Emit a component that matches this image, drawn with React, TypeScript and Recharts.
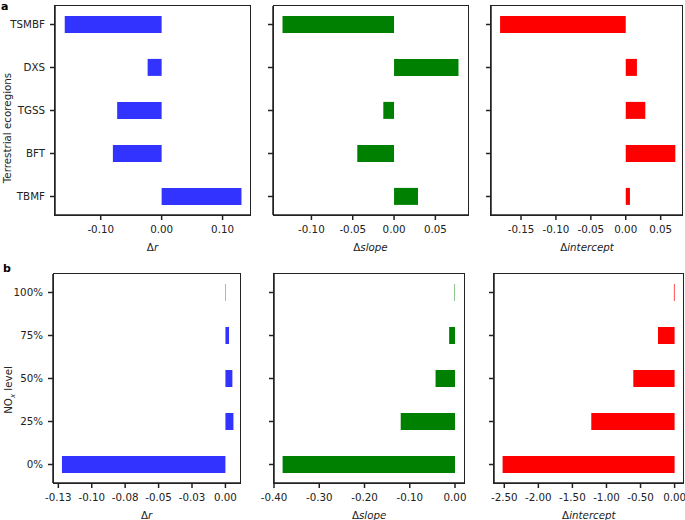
import { BarChart, Bar, XAxis, YAxis } from 'recharts'

const ecoregions = ['TSMBF', 'DXS', 'TGSS', 'BFT', 'TBMF']
const ecoR = [-0.159, -0.023, -0.073, -0.08, 0.131]
const ecoSlope = [-0.135, 0.078, -0.013, -0.0445, 0.029]
const ecoIntercept = [-0.18, 0.016, 0.028, 0.071, 0.006]

const noxLevels = ['100%', '75%', '50%', '25%', '0%']
const noxR = [0.0003, 0.0027, 0.0052, 0.006, -0.1223]
const noxSlope = [-0.001, -0.013, -0.043, -0.12, -0.381]
const noxIntercept = [-0.01, -0.244, -0.606, -1.223, -2.525]

const ecoRTicks = [-0.1, 0, 0.1]
const ecoSlopeTicks = [-0.1, -0.05, 0, 0.05]
const ecoInterceptTicks = [-0.15, -0.1, -0.05, 0, 0.05]
const noxRTicks = [-0.125, -0.1, -0.075, -0.05, -0.025, 0]
const noxRTickLabels = ['-0.13', '-0.10', '-0.08', '-0.05', '-0.03', '0.00']
const noxSlopeTicks = [-0.4, -0.3, -0.2, -0.1, 0]
const noxInterceptTicks = [-2.5, -2, -1.5, -1, -0.5, 0]

const BLUE = '#3333ff'
const GREEN = '#008000'
const RED = '#ff0000'
const AXIS = '#222'
const FONT = '"DejaVu Sans", sans-serif'
const FS = 10.3

const tickStyle = { fontSize: FS, fill: AXIS, fontFamily: FONT }

const XTitle = ({ viewBox, name }: any) => {
  const { x, y, width } = viewBox
  return (
    <text x={x + width / 2} y={y + 36} textAnchor="middle" fontSize={FS} fill={AXIS} fontFamily={FONT}>
      <tspan>Δ</tspan>
      <tspan fontStyle="italic">{name}</tspan>
    </text>
  )
}

interface PanelProps {
  names: string[]
  values: number[]
  color: string
  domain: [number, number]
  ticks: number[]
  tickLabels?: string[]
  title: string
  box: [number, number, number, number]
  showNames?: boolean
}

const Panel = ({ names, values, color, domain, ticks, tickLabels, title, box, showNames }: PanelProps) => {
  const data = names.map((name, i) => ({ name, value: values[i] }))
  const [left, right, top, bottom] = box
  const yw = 50
  const xh = 45
  const mt = 4
  const mr = 4
  const fmt = (v: number) => {
    if (tickLabels) return tickLabels[ticks.indexOf(v)] ?? v.toFixed(2)
    return v.toFixed(2)
  }
  return (
    <>
      <div style={{ position: 'absolute', left: left - yw, top: top - mt }}>
        <BarChart
          layout="vertical"
          width={yw + (right - left) + mr}
          height={mt + (bottom - top) + xh}
          data={data}
          margin={{ top: mt, right: mr, bottom: 0, left: 0 }}
          barCategoryGap="30%"
        >
          <XAxis
            type="number"
            dataKey="value"
            domain={domain}
            ticks={ticks}
            allowDataOverflow
            interval={0}
            height={xh}
            tickFormatter={fmt}
            tick={tickStyle}
            tickSize={5}
            tickMargin={6}
            stroke={AXIS}
            strokeWidth={1.5}
            label={<XTitle name={title} />}
          />
          <YAxis
            type="category"
            dataKey="name"
            width={yw}
            padding={{ top: -3, bottom: -3 }}
            tickFormatter={showNames ? undefined : () => ''}
            tick={tickStyle}
            tickSize={5}
            tickMargin={5}
            stroke={AXIS}
            strokeWidth={1.5}
          />
          <Bar dataKey="value" fill={color} isAnimationActive={false} />
        </BarChart>
      </div>
      {/* full frame round the plot area, like matplotlib's four spines */}
      <div
        style={{
          position: 'absolute',
          left: left - 0.75,
          top: top - 0.75,
          width: right - left + 1.5,
          height: bottom - top + 1.5,
          border: `1.5px solid ${AXIS}`,
          boxSizing: 'border-box',
          pointerEvents: 'none',
        }}
      />
    </>
  )
}

const YTitle = ({ cx, cy, children }: any) => (
  <div
    style={{
      position: 'absolute',
      left: cx,
      top: cy,
      transform: 'translate(-50%, -50%) rotate(-90deg)',
      whiteSpace: 'nowrap',
      fontSize: FS,
      lineHeight: '12px',
      color: AXIS,
      fontFamily: FONT,
    }}
  >
    {children}
  </div>
)

export default function App() {
  return (
    <div
      style={{
        position: 'absolute',
        left: 0,
        top: 0,
        width: 685,
        height: 520,
        background: '#fff',
        overflow: 'hidden',
        fontFamily: FONT,
      }}
    >
      <div style={{ position: 'absolute', left: 1, top: 1, fontSize: 11, lineHeight: '12px', fontWeight: 'bold' }}>a</div>
      <div style={{ position: 'absolute', left: 3, top: 263, fontSize: 11, lineHeight: '12px', fontWeight: 'bold' }}>b</div>

      <YTitle cx={7} cy={128}>Terrestrial ecoregions</YTitle>
      <YTitle cx={8} cy={390}>
        NO<sub style={{ fontSize: 7, fontStyle: 'italic', lineHeight: 0 }}>x</sub> level
      </YTitle>

      <Panel names={ecoregions} values={ecoR} color={BLUE} domain={[-0.175, 0.145]} ticks={ecoRTicks}
        title="r" box={[55, 250, 6, 215]} showNames />
      <Panel names={ecoregions} values={ecoSlope} color={GREEN} domain={[-0.1465, 0.0895]} ticks={ecoSlopeTicks}
        title="slope" box={[273.3, 468.3, 6, 215]} />
      <Panel names={ecoregions} values={ecoIntercept} color={RED} domain={[-0.193, 0.082]} ticks={ecoInterceptTicks}
        title="intercept" box={[490.7, 682.7, 6, 215]} />

      <Panel names={noxLevels} values={noxR} color={BLUE} domain={[-0.129, 0.0112]} ticks={noxRTicks}
        tickLabels={noxRTickLabels} title="r" box={[53.3, 240.7, 274, 483]} showNames />
      <Panel names={noxLevels} values={noxSlope} color={GREEN} domain={[-0.4, 0.0205]} ticks={noxSlopeTicks}
        title="slope" box={[273.7, 464, 274, 483]} />
      <Panel names={noxLevels} values={noxIntercept} color={RED} domain={[-2.651, 0.135]} ticks={noxInterceptTicks}
        title="intercept" box={[493.7, 683.5, 274, 483]} />
    </div>
  )
}
